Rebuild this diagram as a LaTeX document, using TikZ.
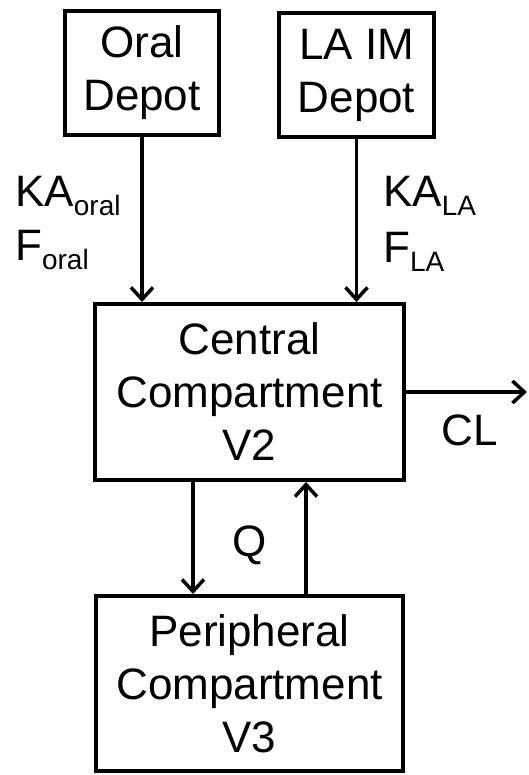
\documentclass[tikz,border=0pt]{standalone}
\usepackage{fontspec}
\setmainfont{Liberation Sans}
\usetikzlibrary{arrows.meta}
\newcommand{\subtxt}[1]{{\fontsize{28}{28}\selectfont\raisebox{-9pt}{#1}}}
\begin{document}
\begin{tikzpicture}[x=1pt,y=-1pt,
  box/.style={draw,line width=4pt,align=center,inner sep=0pt,
    font=\fontsize{44}{53}\selectfont},
  flow/.style={line width=3.2pt,-{Straight Barb[length=12pt,width=22pt,line width=3.5pt]}},
  lbl/.style={inner sep=0pt,font=\fontsize{44}{53}\selectfont}]
\useasboundingbox (0,0) rectangle (528,775);
\node[box,minimum width=154pt,minimum height=124pt] (oral) at (142,73) {Oral\\Depot};
\node[box,minimum width=155pt,minimum height=124pt] (la) at (356.5,75) {LA IM\\Depot};
\node[box,minimum width=309pt,minimum height=176pt] (central) at (249.5,392) {Central\\Compartment\\V2};
\node[box,minimum width=307pt,minimum height=175pt] (periph) at (249.5,683.5) {Peripheral\\Compartment\\V3};
\coordinate (clend) at (527,392);
\draw[flow] (oral.south) -- (central.north -| oral.south);
\draw[flow] (la.south) -- (central.north -| la.south);
\draw[flow] (central.east) -- (clend);
\draw[flow] (central.south -| 193,0) -- (periph.north -| 193,0);
\draw[flow] (periph.north -| 306,0) -- (central.south -| 306,0);
\node[lbl,anchor=base west] (kaoral) at (15,207) {KA\subtxt{oral}};
\node[lbl,anchor=base west] (foral) at (15,261) {F\subtxt{oral}};
\node[lbl,anchor=base west] (kala) at (383,207) {KA\subtxt{LA}};
\node[lbl,anchor=base west] (fla) at (383,262) {F\subtxt{LA}};
\node[lbl,anchor=base] (cl) at (470,445) {CL};
\node[lbl,anchor=base] (q) at (250,556) {Q};
\end{tikzpicture}
\end{document}
